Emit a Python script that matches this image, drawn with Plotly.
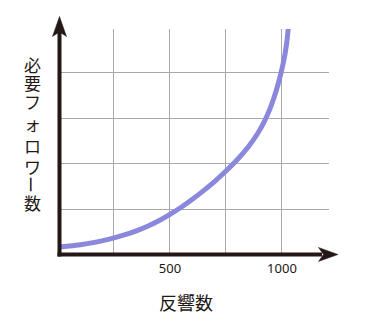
import plotly.graph_objects as go

# data
responses = [0, 50, 100, 150, 200, 250, 300, 350, 400, 450, 500, 550, 600, 650, 700, 750,
             800, 850, 890, 920, 945, 965, 980, 995, 1005, 1014, 1021, 1028]
followers = [0.17, 0.195, 0.225, 0.265, 0.315, 0.375, 0.445, 0.53, 0.63, 0.75, 0.89, 1.045,
             1.22, 1.41, 1.615, 1.84, 2.085, 2.37, 2.65, 2.91, 3.185, 3.455, 3.695, 3.98,
             4.19, 4.41, 4.64, 4.96]
x_grid = [250, 500, 750, 1000]
x_labels = ["", "500", "", "1000"]
y_grid = [1, 2, 3, 4]
x_title = "反響数"
y_title = "必要フォロワー数"

W, H = 365, 324
L, R, T, B = 58, 36, 29, 69
PW, PH = W - L - R, H - T - B

def px(x):
    return (x - L) / PW

def py(y):
    return (H - B - y) / PH

AX = "#231815"
fig = go.Figure()
fig.add_trace(go.Scatter(x=responses, y=followers, mode="lines",
                         line=dict(color="#8b87dc", width=5, shape="spline", smoothing=1.0),
                         hoverinfo="skip", showlegend=False))

shapes = []
# axis lines
shapes.append(dict(type="line", xref="paper", yref="paper", x0=px(59.5), x1=px(59.5),
                   y0=py(256.5), y1=py(32), line=dict(color=AX, width=4), layer="above"))
shapes.append(dict(type="line", xref="paper", yref="paper", x0=px(57.5), x1=px(322),
                   y0=py(254.5), y1=py(254.5), line=dict(color=AX, width=4), layer="above"))
# arrow heads
ya = [(59.5, 16.5), (52.5, 36.5), (59.5, 32), (66.5, 36.5)]
xa = [(338, 254.5), (318.5, 247.5), (323.5, 254.5), (318.5, 261.5)]
for pts in (ya, xa):
    d = "M " + " L ".join(f"{px(a):.5f},{py(b):.5f}" for a, b in pts) + " Z"
    shapes.append(dict(type="path", xref="paper", yref="paper", path=d,
                       fillcolor=AX, line=dict(color=AX, width=0.5), layer="above"))

annotations = []
annotations.append(dict(text=x_title, xref="paper", yref="paper", x=px(186), y=py(302),
                        xanchor="center", yanchor="middle", showarrow=False,
                        font=dict(family="Noto Sans CJK JP", size=18, color=AX)))
ycent = [64, 82.5, 101.5, 123, 145, 166, 184, 202]
for ch, yc in zip(y_title, ycent):
    annotations.append(dict(text=ch, xref="paper", yref="paper", x=px(32), y=py(yc),
                            xanchor="center", yanchor="middle", showarrow=False,
                            textangle=90 if ch == "ー" else 0,
                            font=dict(family="Noto Sans CJK JP", size=17, color=AX)))

fig.update_layout(
    width=W, height=H, margin=dict(l=L, r=R, t=T, b=B),
    paper_bgcolor="white", plot_bgcolor="white",
    shapes=shapes, annotations=annotations,
    xaxis=dict(range=[0, 1210], tickvals=x_grid, ticktext=x_labels, showgrid=True,
               gridcolor="#a8a8a8", gridwidth=1.3, zeroline=False, showline=False,
               ticks="", ticklabelstandoff=4,
               tickfont=dict(family="Noto Sans", size=13, color=AX), fixedrange=True),
    yaxis=dict(range=[0, 4.95], tickvals=y_grid, showticklabels=False, showgrid=True,
               gridcolor="#a8a8a8", gridwidth=1.3, zeroline=False, showline=False,
               ticks="", fixedrange=True),
)
fig.write_html("out.html", config={"displayModeBar": False})
